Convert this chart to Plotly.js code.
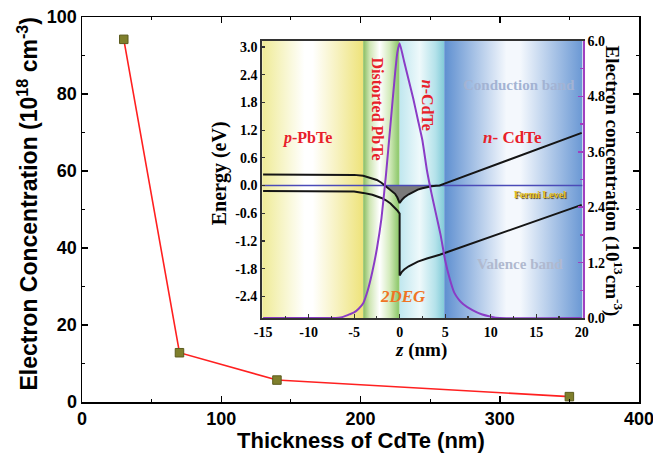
<!DOCTYPE html>
<html><head><meta charset="utf-8">
<script src="https://cdn.plot.ly/plotly-3.0.1.min.js"></script>
<style>html,body{margin:0;padding:0;background:#fff}#c{width:653px;height:459px}
.xtick text,.ytick text,.x2tick text,.y2tick text,.y3tick text,.xtick tspan,.ytick tspan,.x2tick tspan,.y2tick tspan,.y3tick tspan{font-weight:bold !important}</style>
</head><body><div id="c"></div>
<script>
// ---- main chart data ----
const thickness = [30, 70, 140, 350];
const concentration = [94.2, 12.8, 5.7, 1.4];
const thicknessTicks = [0, 100, 200, 300, 400];
const concentrationTicks = [0, 20, 40, 60, 80, 100];

// ---- inset: band diagram (z in nm, energy in eV) ----
const cbZ = [-15, -6, -5, -4, -3, -2.5, -2, -1.6, -1, -0.5, -0.25, 0, 0.25, 0.5, 1, 1.5, 2, 2.5, 3, 3.5, 4, 4.4, 5, 20];
const cbE = [0.24, 0.24, 0.23, 0.21, 0.16, 0.12, 0.06, 0, -0.09, -0.18, -0.26, -0.38, -0.31, -0.26, -0.19, -0.14, -0.09, -0.06, -0.035, -0.015, -0.005, 0, 0.045, 1.14];
const vbZ = [-15, -6, -5, -4, -3, -2, -1.5, -1, -0.5, -0.25, 0, 0, 0.25, 0.5, 1, 1.5, 2, 3, 4.4, 20];
const vbE = [-0.12, -0.12, -0.13, -0.16, -0.2, -0.27, -0.32, -0.39, -0.48, -0.54, -0.61, -1.95, -1.87, -1.82, -1.75, -1.7, -1.65, -1.58, -1.5, -0.42];
const fermiZ = [-15.1, 20.1];
const fermiE = [0, 0];

// electron concentration (10^13 cm^-3)
const nZ = [-15, -7, -6.5, -6, -5.5, -5, -4.5, -4, -3.5, -3, -2.5, -2, -1.5, -1, -0.5, -0.25, 0, 0.5, 1, 1.5, 2, 2.5, 3, 3.5, 4, 4.5, 5, 5.5, 6, 6.5, 7, 8, 9, 10, 11, 20];
const nC = [0, 0, 0.01, 0.04, 0.08, 0.12, 0.2, 0.32, 0.6, 1.0, 1.5, 2.15, 3.1, 4.2, 5.3, 5.75, 5.95, 5.55, 5.15, 4.75, 4.3, 3.85, 3.2, 2.7, 2.25, 1.8, 1.25, 0.85, 0.55, 0.4, 0.3, 0.17, 0.08, 0.03, 0, 0];

// layer regions (nm)
const regionStart = [-15.1, -4, 0, 4.9];
const regionEnd = [-4, 0, 4.9, 20.1];
const regionScales = [
  [[0, '#efeb96'], [0.42, '#ffffff'], [0.5, '#ffffff'], [1, '#eee37a']],
  [[0, '#88bd60'], [0.18, '#cfe6b4'], [0.45, '#ffffff'], [0.72, '#d4ebbd'], [0.95, '#94cb72'], [1, '#94cb72']],
  [[0, '#c0e7ef'], [0.45, '#eef9fb'], [0.8, '#b4e2ea'], [1, '#82cbd8']],
  [[0, '#5e8fd0'], [0.45, '#f4f8fd'], [0.55, '#f4f8fd'], [1, '#6a98d4']]
];

const energyTicks = [-2.4, -1.8, -1.2, -0.6, 0, 0.6, 1.2, 1.8, 2.4, 3.0];
const energyTickText = ['-2.4', '-1.8', '-1.2', '-0.6', '0.0', '0.6', '1.2', '1.8', '2.4', '3.0'];
const zTicks = [-15, -10, -5, 0, 5, 10, 15, 20];
const zTickText = ['-15', '-10', '-5', '0', '5', '10', '15', '20'];
const concTicks = [0, 1.2, 2.4, 3.6, 4.8, 6.0];
const concTickText = ['0.0', '1.2', '2.4', '3.6', '4.8', '6.0'];
const concMinor = [0.6, 1.8, 3.0, 4.2, 5.4];

const E_MIN = -2.87, E_MAX = 3.13;
const bold = a => a.map(t => '<b>' + t + '</b>');

const traces = [];
// background layer bands
for (let i = 0; i < regionStart.length; i++) {
  const a = regionStart[i], b = regionEnd[i];
  traces.push({
    x: [a, b, b, a, a], y: [E_MIN, E_MIN, E_MAX, E_MAX, E_MIN],
    xaxis: 'x2', yaxis: 'y2', mode: 'lines', fill: 'toself',
    line: {width: 0, color: 'rgba(0,0,0,0)'},
    fillgradient: {type: 'horizontal', colorscale: regionScales[i]},
    hoverinfo: 'skip', showlegend: false
  });
}
// 2DEG filled region: conduction band below Fermi level
const gx = [], gy = [];
for (let i = 0; i < cbZ.length; i++) if (cbE[i] <= 0) { gx.push(cbZ[i]); gy.push(cbE[i]); }
gx.push(gx[0]); gy.push(0);
traces.push({x: gx, y: gy, xaxis: 'x2', yaxis: 'y2', mode: 'lines', fill: 'toself',
  fillcolor: '#7a7a7a', line: {width: 0}, hoverinfo: 'skip', showlegend: false});
traces.push({x: fermiZ, y: fermiE, xaxis: 'x2', yaxis: 'y2', mode: 'lines',
  line: {color: '#4b4bb8', width: 1.6}, hoverinfo: 'skip', showlegend: false});
traces.push({x: cbZ, y: cbE, xaxis: 'x2', yaxis: 'y2', mode: 'lines',
  line: {color: '#151515', width: 2}, hoverinfo: 'skip', showlegend: false});
traces.push({x: vbZ, y: vbE, xaxis: 'x2', yaxis: 'y2', mode: 'lines',
  line: {color: '#151515', width: 2}, hoverinfo: 'skip', showlegend: false});
traces.push({x: nZ, y: nC, xaxis: 'x2', yaxis: 'y3', mode: 'lines',
  line: {color: '#8a3cc6', width: 2, shape: 'spline', smoothing: 0.4}, hoverinfo: 'skip', showlegend: false});
// main series
traces.push({x: thickness, y: concentration, xaxis: 'x', yaxis: 'y', mode: 'lines+markers',
  line: {color: '#ff2020', width: 1.6},
  marker: {symbol: 'square', size: 8.5, color: '#7f7f2c', line: {color: '#5c5c1e', width: 1}},
  hoverinfo: 'skip', showlegend: false});

const sans = {family: 'Liberation Sans, Arial, sans-serif', size: 18, color: '#000', weight: 'bold'};
const serif = (s, c, extra) => Object.assign({family: 'Liberation Serif, Times New Roman, serif', size: s, color: c || '#000', weight: 'bold'}, extra || {});
const px = v => (v - 81.5) / 558, py = v => (402 - v) / 385;

const layout = {
  width: 653, height: 459,
  margin: {l: 81.5, r: 13.5, t: 17, b: 57},
  paper_bgcolor: '#fff', plot_bgcolor: '#fff',
  showlegend: false,
  xaxis: {domain: [0, 1], anchor: 'y', range: [0, 400],
    tickmode: 'array', tickvals: thicknessTicks, ticktext: bold(thicknessTicks), ticklabeloverflow: 'allow',
    ticks: 'inside', ticklen: 6, tickwidth: 1.5, tickcolor: '#000',
    minor: {tickvals: [50, 150, 250, 350], ticks: 'inside', ticklen: 3, tickwidth: 1.2, tickcolor: '#000'},
    showline: true, linewidth: 1.5, linecolor: '#000', mirror: 'ticks',
    showgrid: false, zeroline: false, tickfont: sans},
  yaxis: {domain: [0, 1], anchor: 'x', range: [0, 100],
    tickmode: 'array', tickvals: concentrationTicks, ticktext: bold(concentrationTicks), ticklabeloverflow: 'allow',
    ticks: 'inside', ticklen: 6, tickwidth: 1.5, tickcolor: '#000',
    minor: {tickvals: [10, 30, 50, 70, 90], ticks: 'inside', ticklen: 3, tickwidth: 1.2, tickcolor: '#000'},
    showline: true, linewidth: 1.5, linecolor: '#000', mirror: 'ticks',
    showgrid: false, zeroline: false, tickfont: sans},
  xaxis2: {domain: [px(262), px(583)], anchor: 'y2', range: [-15.1, 20.1],
    tickmode: 'array', tickvals: zTicks, ticktext: bold(zTickText),
    ticks: 'inside', ticklen: 4, tickwidth: 1.2, tickcolor: '#333',
    minor: {tickvals: [-12.5, -7.5, -2.5, 2.5, 7.5, 12.5, 17.5], ticks: 'inside', ticklen: 2.5, tickcolor: '#333'},
    showline: true, linewidth: 2, linecolor: '#333', mirror: true,
    showgrid: false, zeroline: false, tickfont: serif(14)},
  yaxis2: {domain: [py(318), py(41)], anchor: 'x2', range: [E_MIN, E_MAX],
    tickmode: 'array', tickvals: energyTicks, ticktext: bold(energyTickText),
    ticks: 'inside', ticklen: 3, tickwidth: 1.2, tickcolor: '#333',
    showline: true, linewidth: 2, linecolor: '#333',
    showgrid: false, zeroline: false, tickfont: serif(14)},
  yaxis3: {overlaying: 'y2', side: 'right', anchor: 'x2', range: [0, 6],
    tickmode: 'array', tickvals: concTicks, ticktext: bold(concTickText),
    ticks: 'inside', ticklen: 5, tickwidth: 1.5, tickcolor: '#a040c0',
    minor: {tickvals: concMinor, ticks: 'inside', ticklen: 3, tickcolor: '#a040c0'},
    showline: true, linewidth: 2, linecolor: '#a040c0',
    showgrid: false, zeroline: false, tickfont: serif(14)},
  annotations: [
    {text: 'Electron Concentration (10<sup>18</sup> cm<sup>-3</sup>)', xref: 'paper', yref: 'paper',
      x: px(27), y: py(204), textangle: -90, showarrow: false, xanchor: 'center', yanchor: 'middle',
      font: Object.assign({}, sans, {size: 23})},
    {text: 'Thickness of CdTe (nm)', xref: 'paper', yref: 'paper', x: px(360.5), y: py(441),
      showarrow: false, xanchor: 'center', yanchor: 'middle', font: Object.assign({}, sans, {size: 22})},
    {text: 'Energy (eV)', xref: 'paper', yref: 'paper', x: px(219), y: py(173), textangle: -90,
      showarrow: false, xanchor: 'center', yanchor: 'middle', font: serif(20)},
    {text: '<i>z</i> (nm)', xref: 'paper', yref: 'paper', x: px(420.7), y: py(350),
      showarrow: false, xanchor: 'center', yanchor: 'middle', font: serif(19)},
    {text: 'Electron concentration (10<sup>13</sup>cm<sup>-3</sup>)', xref: 'paper', yref: 'paper',
      x: px(614), y: py(181), textangle: 90, showarrow: false, xanchor: 'center', yanchor: 'middle', font: serif(19)},
    {text: '<i>p</i>-PbTe', xref: 'x2', yref: 'y2', x: -10.15, y: 1.03, showarrow: false, font: serif(16, '#e8202a')},
    {text: 'Distorted PbTe', xref: 'x2', yref: 'y2', x: -2.4, y: 1.65, textangle: 90, showarrow: false, font: serif(16, '#e8202a')},
    {text: '<i>n</i>-CdTe', xref: 'x2', yref: 'y2', x: 3.05, y: 1.74, textangle: 90, showarrow: false, font: serif(16, '#e8202a')},
    {text: 'Conduction band', xref: 'x2', yref: 'y2', x: 13.1, y: 2.17, showarrow: false, font: serif(15, '#a3b3d3')},
    {text: '<i>n</i>- CdTe', xref: 'x2', yref: 'y2', x: 12.35, y: 1.05, showarrow: false, font: serif(17, '#e8202a')},
    {text: 'Fermi Level', xref: 'x2', yref: 'y2', x: 15.4, y: -0.2, showarrow: false,
      font: serif(10, '#e8c21c', {shadow: '1px 1px 1px #4a3a10'})},
    {text: 'Valence band', xref: 'x2', yref: 'y2', x: 13.2, y: -1.7, showarrow: false, font: serif(15, '#b0b9cf')},
    {text: '<i>2DEG</i>', xref: 'x2', yref: 'y2', x: 0.35, y: -2.41, showarrow: false, font: serif(17, '#f07424')}
  ]
};

Plotly.newPlot('c', traces, layout, {displayModeBar: false, staticPlot: true});
</script></body></html>
